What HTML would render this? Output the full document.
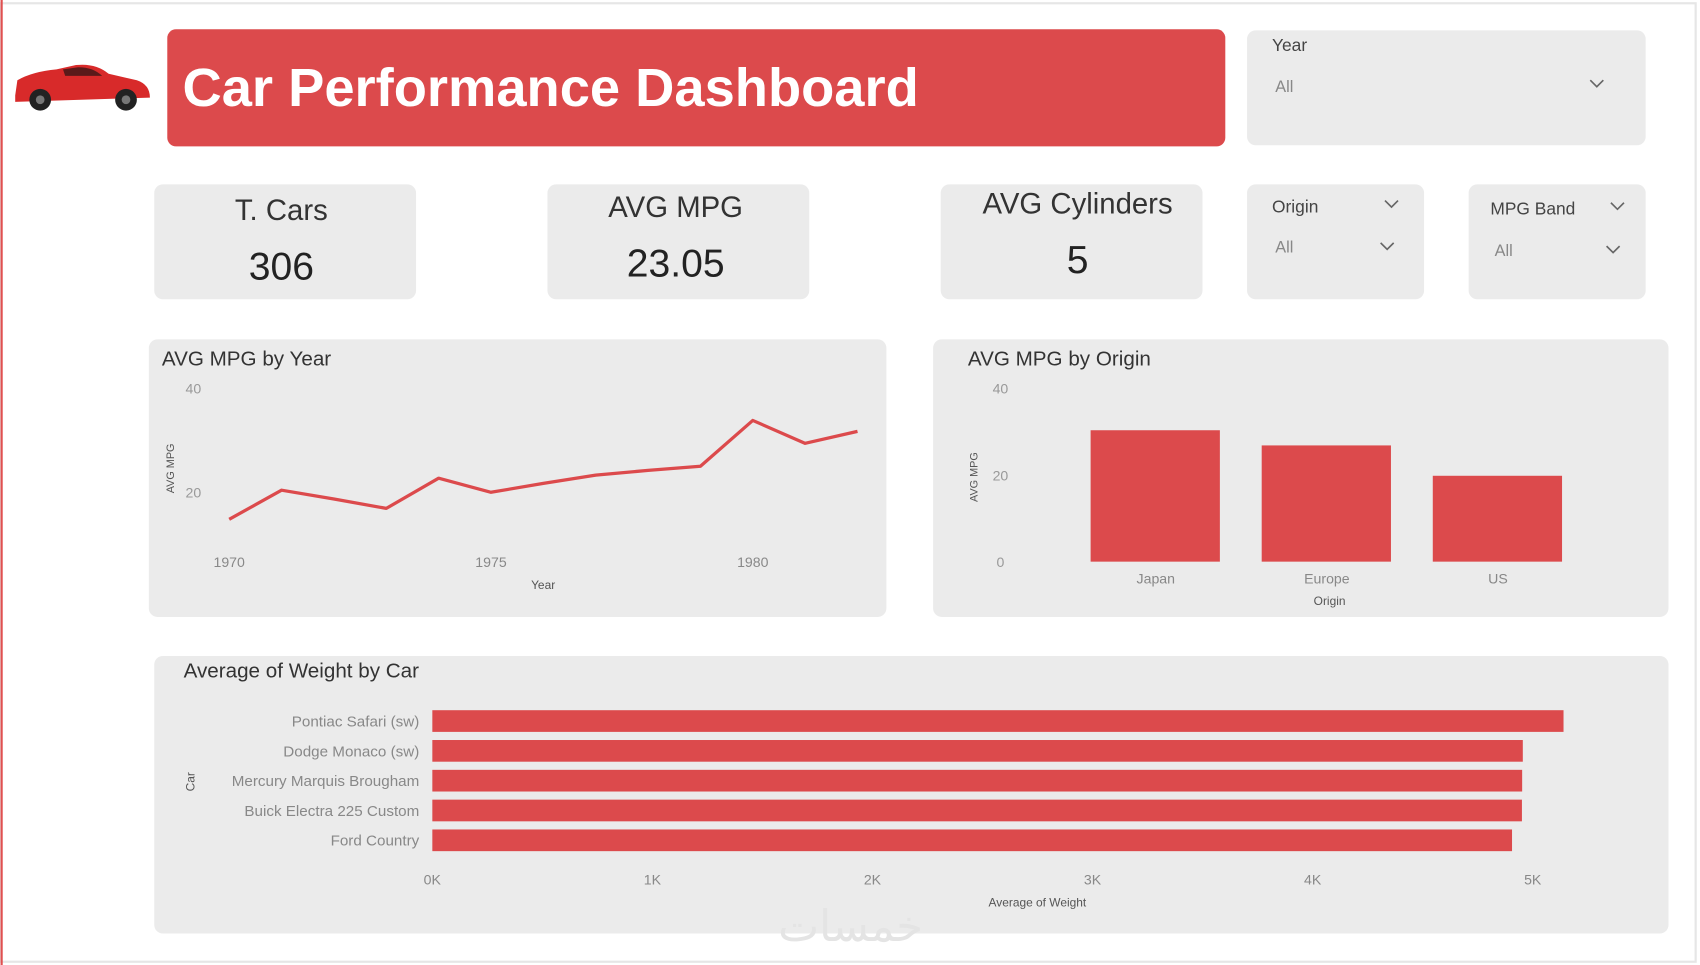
<!DOCTYPE html>
<html><head><meta charset="utf-8"><style>
html,body{margin:0;padding:0;background:#fff;}
svg{display:block;font-family:"Liberation Sans",sans-serif;}
</style></head><body>
<svg id="dash" width="1700" height="965" viewBox="0 0 1565 890" preserveAspectRatio="none">
<rect x="0" y="0" width="1565" height="890" fill="#fff"/>
<rect x="1" y="3" width="1560" height="884" fill="none" stroke="#e6e6e6" stroke-width="2"/>
<line x1="1.5" y1="0" x2="1.5" y2="890" stroke="#e05050" stroke-width="2"/>
<!-- car icon -->
<g>
<path d="M14 88 L16 74 Q30 66 52 64 L70 60 Q88 58 100 68 L126 74 Q138 78 138 90 L14 94 Z" fill="#d82a2a"/>
<path d="M58 64 L72 62 Q86 62 94 70 L60 70 Z" fill="#5a1a1a"/>
<circle cx="37" cy="92" r="10" fill="#222"/><circle cx="37" cy="92" r="4" fill="#777"/>
<circle cx="116" cy="92" r="10" fill="#222"/><circle cx="116" cy="92" r="4" fill="#777"/>
</g>
<g>
<rect x="154" y="27" width="974" height="108" rx="8" fill="#dc4a4c"/>
<text x="168" y="98" font-size="50" font-weight="bold" fill="#fff">Car Performance Dashboard</text>
</g>
<g>
<rect x="1148" y="28" width="367" height="106" rx="8" fill="#ebebeb"/>
<text x="1171" y="47" font-size="16" fill="#444">Year</text>
<text x="1174" y="85" font-size="15" fill="#888">All</text>
<path d="M1464 74 L1470 80 L1476 74" fill="none" stroke="#666" stroke-width="1.5"/>
</g>
<g>
<rect x="142" y="170" width="241" height="106" rx="8" fill="#ebebeb"/>
<text x="259" y="203" font-size="27" fill="#333" text-anchor="middle">T. Cars</text>
<text x="259" y="258" font-size="36" fill="#222" text-anchor="middle">306</text>
</g>
<g>
<rect x="504" y="170" width="241" height="106" rx="8" fill="#ebebeb"/>
<text x="622" y="200" font-size="27" fill="#333" text-anchor="middle">AVG MPG</text>
<text x="622" y="255" font-size="36" fill="#222" text-anchor="middle">23.05</text>
</g>
<g>
<rect x="866" y="170" width="241" height="106" rx="8" fill="#ebebeb"/>
<text x="992" y="197" font-size="27" fill="#333" text-anchor="middle">AVG Cylinders</text>
<text x="992" y="252" font-size="36" fill="#222" text-anchor="middle">5</text>
</g>
<g>
<rect x="1148" y="170" width="163" height="106" rx="8" fill="#ebebeb"/>
<text x="1171" y="196" font-size="16" fill="#444">Origin</text>
<text x="1174" y="233" font-size="15" fill="#888">All</text>
<path d="M1275 185 L1281 191 L1287 185" fill="none" stroke="#666" stroke-width="1.5"/>
<path d="M1271 224 L1277 230 L1283 224" fill="none" stroke="#666" stroke-width="1.5"/>
</g>
<g>
<rect x="1352" y="170" width="163" height="106" rx="8" fill="#ebebeb"/>
<text x="1372" y="198" font-size="16" fill="#444">MPG Band</text>
<text x="1376" y="236" font-size="15" fill="#888">All</text>
<path d="M1483 187 L1489 193 L1495 187" fill="none" stroke="#666" stroke-width="1.5"/>
<path d="M1479 227 L1485 233 L1491 227" fill="none" stroke="#666" stroke-width="1.5"/>
</g>
<g id="lineChart">
<rect x="137" y="313" width="679" height="256" rx="8" fill="#ebebeb"/>
<text x="149" y="337" font-size="19" fill="#333">AVG MPG by Year</text>
<text x="160" y="432" font-size="10" fill="#555" transform="rotate(-90 160 432)" text-anchor="middle">AVG MPG</text>
<text x="500" y="543" font-size="11" fill="#555" text-anchor="middle">Year</text>
</g>
<g id="barChart">
<rect x="859" y="313" width="677" height="256" rx="8" fill="#ebebeb"/>
<text x="891" y="337" font-size="19" fill="#333">AVG MPG by Origin</text>
<text x="900" y="440" font-size="10" fill="#555" transform="rotate(-90 900 440)" text-anchor="middle">AVG MPG</text>
<text x="1224" y="558" font-size="11" fill="#555" text-anchor="middle">Origin</text>
</g>
<g id="hbarChart">
<rect x="142" y="605" width="1394" height="256" rx="8" fill="#ebebeb"/>
<text x="169" y="625" font-size="19" fill="#333">Average of Weight by Car</text>
<text x="179" y="721" font-size="11" fill="#555" transform="rotate(-90 179 721)" text-anchor="middle">Car</text>
<text x="955" y="836" font-size="11" fill="#555" text-anchor="middle">Average of Weight</text>
</g>
<text x="783" y="868" font-size="40" fill="#e4e4e4" text-anchor="middle">خمسات</text>
</svg>
<script>
const years=[1970,1971,1972,1973,1974,1975,1976,1977,1978,1979,1980,1981,1982];
const mpgByYear=[14.8,20.4,18.7,16.9,22.7,20.0,21.7,23.3,24.2,25.0,33.8,29.4,31.7];
const yearTicks=[1970,1975,1980];
const mpgTicks=[20,40];
const origins=["Japan","Europe","US"];
const mpgByOrigin=[30.3,26.8,19.8];
const originTicks=[0,20,40];
const cars=["Pontiac Safari (sw)","Dodge Monaco (sw)","Mercury Marquis Brougham","Buick Electra 225 Custom","Ford Country"];
const weights=[5140,4955,4952,4951,4906];
const weightTicks=[0,1000,2000,3000,4000,5000];
const weightTickLabels=["0K","1K","2K","3K","4K","5K"];

const NS="http://www.w3.org/2000/svg";
function mk(parent,tag,attrs,text){const e=document.createElementNS(NS,tag);for(const k in attrs)e.setAttribute(k,attrs[k]);if(text!==undefined)e.textContent=text;parent.appendChild(e);return e;}
const RED="#dc4a4c";

// line chart
const lc=document.getElementById('lineChart');
const lx=v=>211+(v-1970)*48.2, ly=v=>550-v*4.8;
mpgTicks.forEach(t=>{const e=mk(lc,'text',{x:178,y:ly(t)+5,'font-size':13,fill:'#999','text-anchor':'middle'},t);

});
yearTicks.forEach(t=>{const e=mk(lc,'text',{x:lx(t),y:523,'font-size':13,fill:'#888','text-anchor':'middle'},t);

});
const pl=mk(lc,'polyline',{points:years.map((y,i)=>lx(y)+','+ly(mpgByYear[i])).join(' '),fill:'none',stroke:RED,'stroke-width':3,'stroke-linejoin':'round'});



// origin bar chart
const bc=document.getElementById('barChart');
const by=v=>518-v*4, bx=i=>1004+i*157.5;
originTicks.forEach(t=>{const e=mk(bc,'text',{x:921,y:by(t)+5,'font-size':13,fill:'#999','text-anchor':'middle'},t);

});
origins.forEach((o,i)=>{const r=mk(bc,'rect',{x:bx(i),y:by(mpgByOrigin[i]),width:119,height:mpgByOrigin[i]*4,fill:RED});


const t=mk(bc,'text',{x:bx(i)+60,y:538,'font-size':13,fill:'#888','text-anchor':'middle'},o);

});

// horizontal bar chart
const hc=document.getElementById('hbarChart');
const hx=v=>398+v*0.2026, hy=i=>665+i*27.5;
weightTicks.forEach((t,i)=>{const e=mk(hc,'text',{x:hx(t),y:816,'font-size':13,fill:'#888','text-anchor':'middle'},weightTickLabels[i]);

});
cars.forEach((c,i)=>{const r=mk(hc,'rect',{x:398,y:hy(i)-10,width:hx(weights[i])-398,height:20,fill:RED});


const t=mk(hc,'text',{x:386,y:hy(i)+5,'font-size':14,fill:'#888','text-anchor':'end'},c);

});
</script>
</body></html>
